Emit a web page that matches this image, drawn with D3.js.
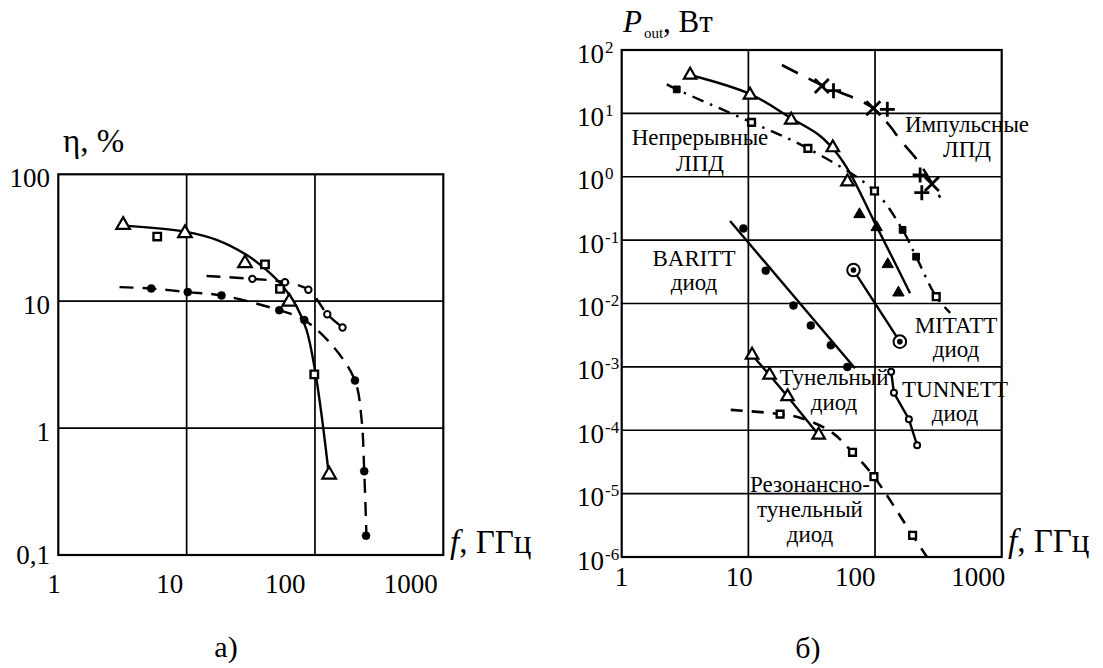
<!DOCTYPE html>
<html><head><meta charset="utf-8">
<script src="https://cdn.jsdelivr.net/npm/d3@7"></script>
<style>
html,body{margin:0;padding:0;background:#fff;}
</style></head><body>
<svg id="c" width="1103" height="668" font-family="Liberation Serif"></svg>
<script>
// ---------- tick values ----------
const freqTicks = [1, 10, 100, 1000];
const freqTickLabels = ["1", "10", "100", "1000"];
const etaTicks = [0.1, 1, 10, 100];
const etaTickLabels = ["0,1", "1", "10", "100"];
const powTicks = [1e-6, 1e-5, 1e-4, 1e-3, 1e-2, 1e-1, 1, 10, 100];
const powTickExp = ["-6", "-5", "-4", "-3", "-2", "-1", "0", "1", "2"];

// ---------- chart a: efficiency (%) vs frequency (GHz) ----------
const aTriangles = [[3.2, 39.9], [9.7, 34.3], [28.5, 19.9], [63, 9.9], [129, 0.43]];
const aSquares = [[5.9, 32.3], [40.8, 19.5], [53.4, 12.5], [98.8, 2.65]];
const aSolidCurve = [[3.2, 39.4], [9.7, 35.3], [17.1, 30.4], [29.4, 23.1], [42, 17.6], [56.6, 13], [72, 9.06], [86, 5.93], [100, 2.87], [113, 1.23], [127, 0.467]];
const aOpenCircles = [[32.5, 15.0], [58.4, 14.1], [88.8, 12.3], [124.7, 7.9], [164, 6.2]];
const aOpenCurve = [[14.3, 15.8], [32.5, 15.0], [58.4, 14.1], [88.8, 12.3], [124.7, 7.9], [164, 6.2]];
const aDots = [[5.3, 12.6], [10.2, 11.8], [18.7, 11.1], [52.7, 8.5], [82.6, 7.1], [205, 2.37], [242, 0.457], [250, 0.142]];
const aDotCurve = [[3.0, 12.9], [5.3, 12.6], [10.2, 11.8], [18.7, 11.1], [52.7, 8.5], [82.6, 7.1], [139, 4.38], [205, 2.37], [231, 1.16], [242, 0.457], [253, 0.124]];

// ---------- chart b: output power (W) vs frequency (GHz) ----------
const cwTriangles = [[3.47, 40.3], [10.3, 19.5], [21.8, 7.85], [46.4, 2.88], [60.6, 0.835]];
const cwTriCurve = [[3.47, 40.3], [10.3, 20.2], [21.8, 8.35], [36.9, 4.4], [49.9, 2.34], [63.6, 1.13], [97.2, 0.207], [140, 0.0485], [189, 0.0145]];
const cwFilledTriangles = [[75.4, 0.255], [103, 0.159], [126, 0.0415], [153, 0.0148]];
const cwFilledSquares = [[2.72, 23.9], [165, 0.145], [211, 0.0548]];
const cwOpenSquares = [[10.6, 7.2], [29.5, 2.8], [99, 0.596], [304, 0.0128]];
const cwDashDot = [[2.27, 28.7], [2.72, 23.9], [10.6, 7.2], [29.5, 2.8], [99, 0.596], [165, 0.145], [211, 0.0548], [304, 0.0128], [392, 0.0071]];
const pulseCrosses = [[38, 27], [97, 12], [281, 0.77]];
const pulsePlus = [[47, 22.8], [125, 11.6], [227, 1.07], [234, 0.56]];
const pulseCurve = [[18.4, 58], [38, 28], [74, 16.3], [97, 12], [132, 6.2], [158, 3.8], [220, 1.73], [327, 0.47]];
const barittDots = [[9.14, 0.153], [13.7, 0.033], [22.7, 0.0093], [31.1, 0.0045], [44.8, 0.0022], [60.4, 0.001]];
const barittLine = [[7.17, 0.2], [69.4, 0.00095]];
const mitatt = [[67.6, 0.0337], [157, 0.0025]];
const tunnett = [[134, 0.00084], [141, 0.00039], [185, 0.000149], [215, 0.000058]];
const tunnelTriangles = [[10.7, 0.00154], [14.7, 0.000745], [20.4, 0.00034], [35.9, 0.000084]];
const rtdSquares = [[17.8, 0.00018], [66.4, 0.0000449], [98, 0.0000185], [198, 0.0000022]];
const rtdCurve = [[7.26, 0.00021], [17.8, 0.00018], [26.3, 0.000155], [44.8, 0.000095], [66.4, 0.0000449], [98, 0.0000185], [198, 0.0000022], [257, 0.000001]];

// ---------- drawing ----------
const FONT = "Liberation Serif";
const svg = d3.select("#c");
svg.append("rect").attr("width", 1103).attr("height", 668).attr("fill", "#fff");

const xA = d3.scaleLog().domain([1, 1000]).range([58.3, 443.3]);
const yA = d3.scaleLog().domain([0.1, 100]).range([555, 174.3]);
const xB = d3.scaleLog().domain([1, 1000]).range([621.7, 1001.7]);
const yB = d3.scaleLog().domain([1e-6, 100]).range([557, 50]);

function frame(x, y, gx, gy) {
  const g = svg.append("g");
  const [x0, x1] = x.range(), [y0, y1] = y.range();
  gx.forEach(v => g.append("line").attr("x1", x(v)).attr("x2", x(v)).attr("y1", y0).attr("y2", y1)
    .attr("stroke", "#000").attr("stroke-width", 1.7));
  gy.forEach(v => g.append("line").attr("x1", x0).attr("x2", x1).attr("y1", y(v)).attr("y2", y(v))
    .attr("stroke", "#000").attr("stroke-width", 1.7));
  g.append("rect").attr("x", x0).attr("y", y1).attr("width", x1 - x0).attr("height", y0 - y1)
    .attr("fill", "none").attr("stroke", "#000").attr("stroke-width", 2.2);
}
frame(xA, yA, [10, 100], [1, 10]);
frame(xB, yB, [10, 100], [1e-5, 1e-4, 1e-3, 1e-2, 1e-1, 1, 10]);

// axes (tick labels); label offsets follow the original typesetting
function bottomAxis(x, y, pad, dxs) {
  const ax = svg.append("g").attr("transform", `translate(0,${y.range()[0]})`)
    .call(d3.axisBottom(x).tickValues(freqTicks).tickSize(0).tickPadding(pad)
      .tickFormat((d, i) => freqTickLabels[i]));
  ax.attr("font-family", FONT).attr("font-size", 27);
  ax.select(".domain").remove();
  ax.selectAll("text").attr("font-size", 27).attr("text-anchor", "end").attr("dx", (d, i) => dxs[i])
    .attr("font-family", FONT).attr("fill", "#000");
}
bottomAxis(xA, yA, 18.8, [2, -4, -10, -6]);
bottomAxis(xB, yB, 9.5, [6, 4, 0, 3]);

const axA = svg.append("g").attr("transform", `translate(${xA.range()[0]},0)`)
  .call(d3.axisLeft(yA).tickValues(etaTicks).tickSize(0).tickPadding(8.3)
    .tickFormat((d, i) => etaTickLabels[i]));
axA.attr("font-family", FONT).attr("font-size", 27);
axA.select(".domain").remove();
axA.selectAll("text").attr("font-size", 27).attr("dy", (d, i) => i === 0 ? 8 : 12)
  .attr("font-family", FONT).attr("fill", "#000");

const axB = svg.append("g").attr("transform", `translate(${xB.range()[0]},0)`)
  .call(d3.axisLeft(yB).tickValues(powTicks).tickSize(0).tickFormat(""));
axB.attr("font-family", FONT).attr("font-size", 27);
axB.select(".domain").remove();
axB.selectAll(".tick").each(function (d, i) {
  const t = d3.select(this).select("text").text(null)
    .attr("x", -44.7).attr("dy", 12).attr("text-anchor", "start")
    .attr("font-size", 27).attr("font-family", FONT).attr("fill", "#000");
  t.append("tspan").text("10");
  t.append("tspan").attr("font-size", 17).attr("dy", -10).attr("dx", 1).text(powTickExp[i]);
});

// line helpers
function path(data, x, y, opts) {
  const gen = d3.line().x(d => x(d[0])).y(d => y(d[1]))
    .curve(opts.curve ? d3.curveCatmullRom.alpha(0.5) : d3.curveLinear);
  svg.append("path").attr("d", gen(data)).attr("fill", "none").attr("stroke", "#000")
    .attr("stroke-width", opts.w || 2.4).attr("stroke-dasharray", opts.dash || null);
}
function symbols(data, x, y, type, size, filled, sw) {
  svg.append("g").selectAll("path").data(data).join("path")
    .attr("transform", d => `translate(${x(d[0])},${y(d[1])})`)
    .attr("d", d3.symbol(type, size)())
    .attr("fill", filled ? "#000" : "#fff").attr("stroke", "#000").attr("stroke-width", sw || 2);
}
function circles(data, x, y, r, filled, sw) {
  svg.append("g").selectAll("circle").data(data).join("circle")
    .attr("cx", d => x(d[0])).attr("cy", d => y(d[1])).attr("r", r)
    .attr("fill", filled ? "#000" : "#fff").attr("stroke", "#000").attr("stroke-width", sw || 2);
}
function glyphs(data, x, y, dstr, sw) {
  svg.append("g").selectAll("path").data(data).join("path")
    .attr("transform", d => `translate(${x(d[0])},${y(d[1])})`)
    .attr("d", dstr).attr("fill", "none").attr("stroke", "#000").attr("stroke-width", sw);
}

// chart a
path(aSolidCurve, xA, yA, { curve: true });
path(aOpenCurve, xA, yA, { curve: true, dash: "14,9" });
path(aDotCurve, xA, yA, { curve: true, dash: "14,9" });
symbols(aTriangles, xA, yA, d3.symbolTriangle, 80, false, 2.2);
symbols(aSquares, xA, yA, d3.symbolSquare, 56, false, 2.4);
circles(aOpenCircles, xA, yA, 3.2, false, 2);
circles(aDots, xA, yA, 4, true, 0.5);

// chart b
path(cwTriCurve, xB, yB, { curve: true });
path(cwDashDot, xB, yB, { curve: true, dash: "12,7,2.5,7" });
path(pulseCurve, xB, yB, { curve: true, dash: "18,12", w: 2.6 });
path(barittLine, xB, yB, {});
path(mitatt, xB, yB, {});
path(tunnett, xB, yB, {});
path(tunnelTriangles, xB, yB, {});
path(rtdCurve, xB, yB, { curve: true, dash: "12,9", w: 2.6 });

symbols(cwTriangles, xB, yB, d3.symbolTriangle, 68, false, 2.2);
symbols(cwFilledTriangles, xB, yB, d3.symbolTriangle, 56, true, 1);
symbols(cwFilledSquares, xB, yB, d3.symbolSquare, 46, true, 1);
symbols(cwOpenSquares, xB, yB, d3.symbolSquare, 46, false, 2.4);
glyphs(pulseCrosses, xB, yB, "M-7,-7L7,7M-7,7L7,-7", 2.8);
glyphs(pulsePlus, xB, yB, "M-7.5,0H7.5M0,-7.5V7.5", 2.8);
circles(barittDots, xB, yB, 4, true, 0.5);
circles(mitatt, xB, yB, 6.3, false, 2);
circles(mitatt, xB, yB, 1.8, true, 0);
circles(tunnett, xB, yB, 3, false, 2);
symbols(tunnelTriangles, xB, yB, d3.symbolTriangle, 68, false, 2.2);
symbols(rtdSquares, xB, yB, d3.symbolSquare, 46, false, 2.4);

// texts
function txt(s, x, y, size, anchor) {
  return svg.append("text").attr("x", x).attr("y", y).attr("font-size", size)
    .attr("font-family", FONT).attr("fill", "#000")
    .attr("text-anchor", anchor || "middle").text(s);
}
const notes = [
  ["Непрерывные", 700, 145], ["ЛПД", 700, 171],
  ["Импульсные", 967, 132], ["ЛПД", 967, 157],
  ["BARITT", 694, 266], ["диод", 694, 290],
  ["MITATT", 956, 333], ["диод", 956, 357],
  ["TUNNETT", 955, 397], ["диод", 955, 421],
  ["Тунельный", 834, 385], ["диод", 834, 410],
  ["Резонансно-", 810, 492], ["тунельный", 810, 517], ["диод", 810, 542]
];
notes.forEach(n => txt(n[0], n[1], n[2], 23));

// axis titles
let t = txt("", 63, 152, 33, "start");
t.append("tspan").text("η, %");
t = txt("", 450, 553, 33, "start");
t.append("tspan").attr("font-style", "italic").text("f");
t.append("tspan").text(", ГГц");
t = txt("", 1008, 552, 33, "start");
t.append("tspan").attr("font-style", "italic").text("f");
t.append("tspan").text(", ГГц");
t = txt("", 623, 32, 31, "start");
t.append("tspan").attr("font-style", "italic").text("P");
t.append("tspan").attr("font-size", 15).attr("dy", 6).attr("dx", 2).text("out");
t.append("tspan").attr("dy", -6).text(", Вт");

txt("а)", 226, 657, 30);
txt("б)", 808, 658, 30);
</script>
</body></html>
